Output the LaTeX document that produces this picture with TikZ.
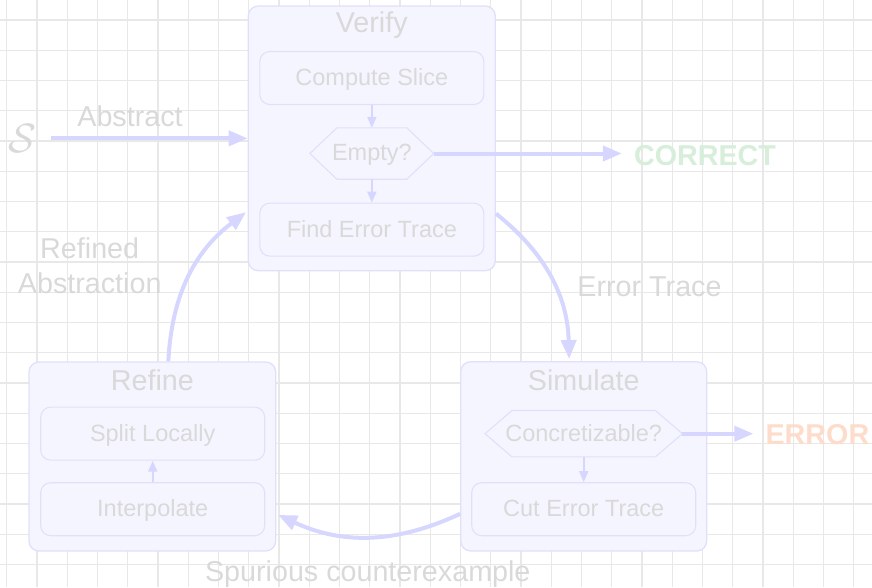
\RequirePackage{fix-cm}
\documentclass[tikz,border=0pt]{standalone}
\usepackage{fontspec}
\setmainfont{Liberation Sans}
\usetikzlibrary{arrows.meta,calc}
\definecolor{gridc}{HTML}{E8E8E8}
\definecolor{boxfill}{HTML}{F5F5FF}
\definecolor{boxdraw}{HTML}{E0E0FA}
\definecolor{txt}{HTML}{D9D9D9}
\definecolor{arr}{HTML}{D6D6FF}
\definecolor{okc}{HTML}{D6EEDA}
\definecolor{errc}{HTML}{FDDCCB}
\begin{document}
\begin{tikzpicture}[x=1pt,y=-1pt,
 gridline/.style={draw=gridc, line width=1.3pt},
 outerbox/.style={draw=boxdraw, fill=boxfill, line width=1.3pt, rounded corners=10pt, inner sep=0pt},
 stepbox/.style={draw=boxdraw, fill=boxfill, line width=1.1pt, rounded corners=10pt, inner sep=0pt,
   minimum width=224pt, minimum height=53pt, font=\fontsize{23.5}{28}\selectfont, text=txt,
   text height=16.8pt, text depth=2pt},
 decision/.style={inner sep=0pt, font=\fontsize{23.5}{28}\selectfont, text=txt,
   text height=16.8pt, text depth=2pt},
 hexline/.style={draw=boxdraw, line width=1.1pt, line join=miter},
 title/.style={font=\fontsize{28.7}{34}\selectfont, text=txt, inner sep=0pt},
 lbl/.style={font=\fontsize{28.7}{35.7}\selectfont, text=txt, inner sep=0pt},
 result/.style={font=\bfseries\fontsize{28.7}{34}\selectfont, inner xsep=12pt, inner ysep=0pt},
 small/.style={draw=arr, line width=2pt, -{Triangle[length=11pt,width=9pt]}},
 big/.style={draw=arr, line width=4pt, -{Triangle[length=19pt,width=15pt]}},
]
\useasboundingbox (0,0) rectangle (872,587);
% grid
\foreach \i in {0,...,28} \draw[gridline] ({6.7+30.25*\i},0) -- ++(0,587);
\foreach \j in {0,...,18} \draw[gridline] (0,{20+30.25*\j}) -- ++(872,0);

% Verify
\node[outerbox, minimum width=247pt, minimum height=264.7pt] (verify) at (371.8,138.35) {};
\node[title, anchor=base] (verifyT) at (371.8,32.3) {Verify};
\node[stepbox] (slice) at (371.85,78) {Compute Slice};
\node[decision, minimum width=123.5pt, minimum height=51pt] (empty) at (371.85,153.5) {Empty?};
\draw[hexline] (empty.west) -- ($(empty.north west)+(27,0)$) -- ($(empty.north east)+(-27,0)$)
  -- (empty.east) -- ($(empty.south east)+(-27,0)$) -- ($(empty.south west)+(27,0)$) -- cycle;
\node[stepbox] (find) at (371.85,229.65) {Find Error Trace};

% Simulate
\node[outerbox, minimum width=246pt, minimum height=189.3pt] (simulate) at (583.7,456.35) {};
\node[title, anchor=base] (simulateT) at (583.7,390.7) {Simulate};
\node[decision, minimum width=197pt, minimum height=46pt] (concr) at (583.7,433.7) {Concretizable?};
\draw[hexline] (concr.west) -- ($(concr.north west)+(27,0)$) -- ($(concr.north east)+(-27,0)$)
  -- (concr.east) -- ($(concr.south east)+(-27,0)$) -- ($(concr.south west)+(27,0)$) -- cycle;
\node[stepbox] (cut) at (583.7,509.2) {Cut Error Trace};

% Refine
\node[outerbox, minimum width=246.7pt, minimum height=189pt] (refine) at (152.35,456.5) {};
\node[title, anchor=base] (refineT) at (152.35,390.7) {Refine};
\node[stepbox] (split) at (152.7,433.65) {Split Locally};
\node[stepbox] (interp) at (152.7,509.2) {Interpolate};

% outside
\node[inner sep=0pt, text=txt, font=\fontsize{41}{41}\selectfont] (S) at (22.5,138.35) {$\mathcal{S}$};
\node[result, text=okc, anchor=base] (correct) at (705,165) {CORRECT};
\node[result, text=errc, anchor=base] (error) at (817.4,444.3) {ERROR};

% labels
\node[lbl, anchor=base] (abstractL) at (130,126.7) {Abstract};
\node[lbl, align=center] (refinedL) at (89.7,265.6) {Refined\\Abstraction};
\node[lbl, anchor=base] (errTraceL) at (649.5,296.7) {Error Trace};
\node[lbl, anchor=base] (spuriousL) at (367.8,581) {Spurious counterexample};

% connectors
\draw[small] (slice.south) -- (empty.north);
\draw[small] (empty.south) -- (find.north);
\draw[small] (concr.south) -- (cut.north);
\draw[small] (interp.north) -- (split.south);
\draw[big] (S.east) ++(14,0) coordinate (Sstart) -- (Sstart -| verify.west);
\draw[big] (empty.east) -- (empty.east -| correct.west);
\draw[big] (concr.east) -- (concr.east -| error.west);
\draw[big, shorten >=2pt] (verify) to[bend left=25] (simulate);
\draw[big, shorten >=2pt] (simulate) to[bend left=25] (refine);
\draw[big, shorten >=2pt] (refine) to[bend left=25] (verify);
\end{tikzpicture}
\end{document}
